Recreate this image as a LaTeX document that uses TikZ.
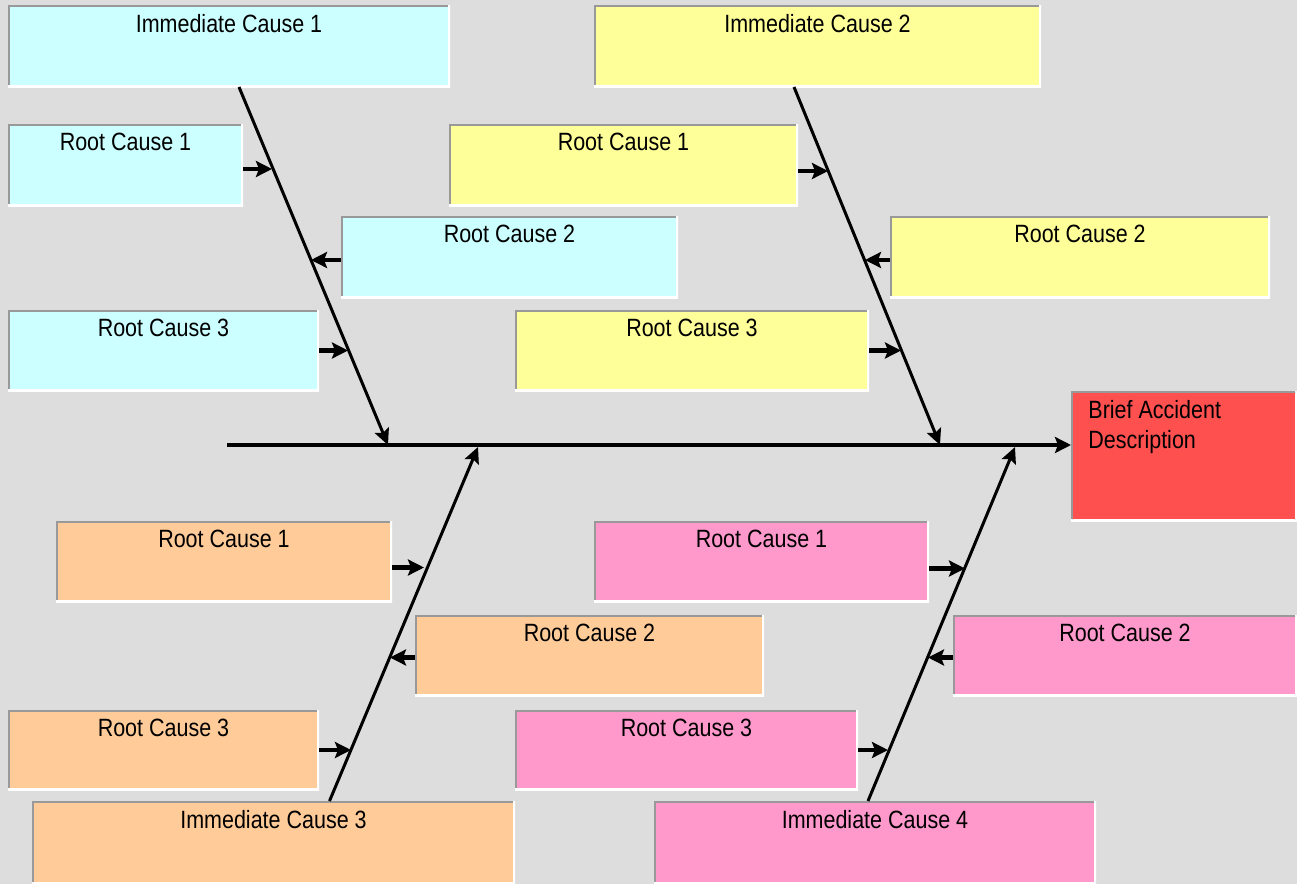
\documentclass[tikz,border=0pt]{standalone}
\usepackage{fontspec}
\setmainfont{Liberation Sans}[FakeStretch=0.86]
\usepackage{tikz}
\usetikzlibrary{arrows.meta,positioning}

\definecolor{bgray}{HTML}{DDDDDD}
\definecolor{edgegray}{HTML}{999999}
\definecolor{cyanbox}{HTML}{CCFFFF}
\definecolor{yellowbox}{HTML}{FFFF99}
\definecolor{orangebox}{HTML}{FFCC99}
\definecolor{pinkbox}{HTML}{FF99CC}
\definecolor{redbox}{HTML}{FF5050}

\begin{document}
\begin{tikzpicture}[x=0.5pt, y=-0.5pt, every node/.style={font=\fontsize{12.5pt}{15pt}\selectfont}]

    % styles for the boxes and the bones
    \tikzset{
        causebox/.style={fill=#1, anchor=north west, inner sep=0pt, outer sep=0pt,
            path picture={
                \draw[edgegray, line width=2pt] (path picture bounding box.south west) -- (path picture bounding box.north west) -- (path picture bounding box.north east);
                \draw[white, line width=2pt] (path picture bounding box.north east) -- (path picture bounding box.south east) -- (path picture bounding box.south west);
            }},
        boxtext/.style={label={[anchor=north, inner sep=0pt, yshift=-4.5pt]north:#1}},
        spine/.style={-{Stealth[length=8pt, width=8pt, inset=1.5pt]}, line width=2pt, black},
        bone/.style={-{Stealth[length=8pt, width=7.5pt, inset=1.5pt]}, line width=1.5pt, black},
        twig/.style={-{Stealth[length=8pt, width=8pt, inset=1.5pt]}, line width=2.2pt, black}
    }

    % page background
    \fill[bgray] (0,0) rectangle (1297,884);
    \useasboundingbox (0,0) rectangle (1297,884);

    % upper left group
    \node[causebox=cyanbox, minimum width=221pt, minimum height=41pt, boxtext={Immediate Cause 1}] (ic1) at (8,5) {};
    \node[causebox=cyanbox, minimum width=117.5pt, minimum height=41pt, boxtext={Root Cause 1}] (c1) at (8,124) {};
    \node[causebox=cyanbox, minimum width=168.5pt, minimum height=41pt, boxtext={Root Cause 2}] (c2) at (341,216) {};
    \node[causebox=cyanbox, minimum width=155.5pt, minimum height=40.5pt, boxtext={Root Cause 3}] (c3) at (8,310) {};

    % upper right group
    \node[causebox=yellowbox, minimum width=223.5pt, minimum height=41pt, boxtext={Immediate Cause 2}] (ic2) at (594,5) {};
    \node[causebox=yellowbox, minimum width=174.5pt, minimum height=41pt, boxtext={Root Cause 1}] (y1) at (449,124) {};
    \node[causebox=yellowbox, minimum width=190pt, minimum height=41pt, boxtext={Root Cause 2}] (y2) at (890,216) {};
    \node[causebox=yellowbox, minimum width=177pt, minimum height=40.5pt, boxtext={Root Cause 3}] (y3) at (515,310) {};

    % head of the fish
    \node[causebox=redbox, minimum width=113pt, minimum height=65pt,
        label={[anchor=north west, inner sep=0pt, xshift=8.5pt, yshift=-4.5pt, align=left]north west:Brief Accident\\Description}] (desc) at (1071,391) {};

    % lower left group
    \node[causebox=orangebox, minimum width=168pt, minimum height=40.5pt, boxtext={Root Cause 1}] (o1) at (56,521) {};
    \node[causebox=orangebox, minimum width=174.5pt, minimum height=40.5pt, boxtext={Root Cause 2}] (o2) at (415,615) {};
    \node[causebox=orangebox, minimum width=155.5pt, minimum height=40pt, boxtext={Root Cause 3}] (o3) at (8,710) {};
    \node[causebox=orangebox, minimum width=241.5pt, minimum height=41.5pt, boxtext={Immediate Cause 3}] (ic3) at (32,801) {};

    % lower right group
    \node[causebox=pinkbox, minimum width=167.5pt, minimum height=40.5pt, boxtext={Root Cause 1}] (p1) at (594,521) {};
    \node[causebox=pinkbox, minimum width=172pt, minimum height=40.5pt, boxtext={Root Cause 2}] (p2) at (953,615) {};
    \node[causebox=pinkbox, minimum width=171.5pt, minimum height=40pt, boxtext={Root Cause 3}] (p3) at (515,710) {};
    \node[causebox=pinkbox, minimum width=221pt, minimum height=41.5pt, boxtext={Immediate Cause 4}] (ic4) at (654,801) {};

    % spine and where the bones meet it
    \coordinate (tail) at (227,445);
    \coordinate (j1) at (388,445);
    \coordinate (j2) at (940,445);
    \coordinate (j3) at (478,447);
    \coordinate (j4) at (1015,447);
    \draw[spine] (tail) -- (tail -| desc.west);

    % bones
    \draw[bone] ([xshift=5pt]ic1.south) -- (j1);
    \draw[bone] ([xshift=-11.75pt]ic2.south) -- (j2);
    \draw[bone] ([xshift=28pt]ic3.north) -- (j3);
    \draw[bone] ([xshift=-3.5pt]ic4.north) -- (j4);

    % root causes onto the bones
    \draw[twig] ([yshift=-2pt]c1.east) -- ++(29,0);
    \draw[twig] ([yshift=-1.5pt]c2.west) -- ++(-30,0);
    \draw[twig] (c3.east) -- ++(29,0);
    \draw[twig] ([yshift=-3pt]y1.east) -- ++(30,0);
    \draw[twig] ([yshift=-1.5pt]y2.west) -- ++(-25,0);
    \draw[twig] (y3.east) -- ++(32,0);
    \draw[twig] ([yshift=-3pt]o1.east) -- ++(32,0);
    \draw[twig] ([yshift=-1pt]o2.west) -- ++(-25,0);
    \draw[twig] (o3.east) -- ++(32,0);
    \draw[twig] ([yshift=-3.5pt]p1.east) -- ++(36,0);
    \draw[twig] ([yshift=-1pt]p2.west) -- ++(-25,0);
    \draw[twig] (p3.east) -- ++(30,0);

\end{tikzpicture}
\end{document}
